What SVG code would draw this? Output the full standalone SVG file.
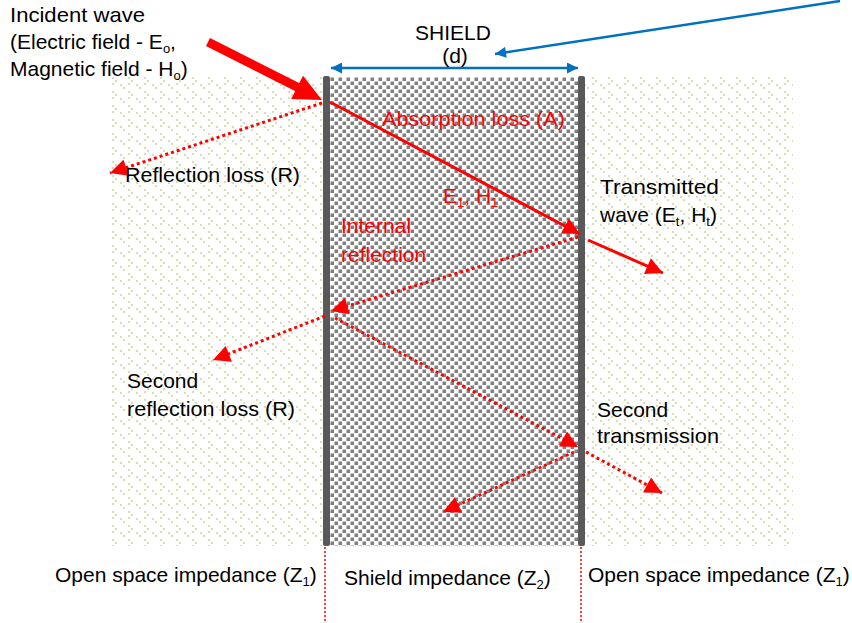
<svg xmlns="http://www.w3.org/2000/svg" width="852" height="623" viewBox="0 0 852 623">
<style>
.t{font-family:"Liberation Sans",Arial,sans-serif;font-size:21px;fill:#000}
.r{font-family:"Liberation Sans",Arial,sans-serif;font-size:21px;fill:#ff0000}
.s{font-size:13px}
.dot{stroke:#ff0000;stroke-width:3;stroke-dasharray:3 3;fill:none}
.sol{stroke:#ff0000;stroke-width:3;fill:none}
.blue{stroke:#0070c0;stroke-width:2.5;fill:none}
.wall{fill:#595959}
</style>
<defs>
<pattern id="open" x="110" y="76" width="16" height="14" patternUnits="userSpaceOnUse">
<rect x="2" y="1" width="2" height="2" fill="#d8ddb4"/>
<rect x="5" y="4" width="2" height="2" fill="#d8ddb4"/>
<rect x="2" y="7" width="2" height="2" fill="#d8ddb4"/>
<rect x="10" y="8" width="2" height="2" fill="#d8ddb4"/>
<rect x="13" y="11" width="2" height="2" fill="#d8ddb4"/>
</pattern>
<pattern id="chk" x="330" y="77" width="8" height="8" patternUnits="userSpaceOnUse">
<rect x="0.5" y="0.5" width="3.5" height="3.5" fill="#7f7f7f"/>
<rect x="4.5" y="4.5" width="3.5" height="3.5" fill="#7f7f7f"/>
</pattern>
<marker id="ah" viewBox="0 0 10 10" refX="10" refY="5" markerWidth="18" markerHeight="17" markerUnits="userSpaceOnUse" orient="auto">
<path d="M0,0 L10,5 L0,10 z" fill="#ff0000"/>
</marker>
<marker id="bh" viewBox="0 0 10 10" refX="10" refY="5" markerWidth="14" markerHeight="11" markerUnits="userSpaceOnUse" orient="auto-start-reverse">
<path d="M0,0 L10,5 L0,10 z" fill="#0070c0"/>
</marker>
</defs>

<g id="open-left"><rect x="110" y="76" width="213" height="470" fill="url(#open)"/></g>
<g id="open-right"><rect x="585" y="76" width="208" height="470" fill="url(#open)"/></g>
<g id="shield">
<rect x="330" y="77" width="248" height="469" fill="#fff"/>
<rect x="330" y="77" width="248" height="469" fill="url(#chk)"/>
<rect class="wall" x="323" y="76" width="7" height="470" rx="2"/>
<rect class="wall" x="578" y="76" width="7" height="470" rx="2"/>
</g>

<g id="connectors">
<line x1="325" y1="547" x2="325" y2="621" stroke="#ff0000" stroke-width="1.5" stroke-dasharray="2 2"/>
<line x1="581" y1="547" x2="581" y2="621" stroke="#ff0000" stroke-width="1.5" stroke-dasharray="2 2"/>
<line class="blue" x1="331" y1="68" x2="578" y2="68" marker-start="url(#bh)" marker-end="url(#bh)"/>
<line class="blue" x1="840" y1="1" x2="495" y2="54" marker-end="url(#bh)"/>
<line x1="208" y1="42" x2="299" y2="88" stroke="#ff0000" stroke-width="9"/>
<polygon points="322,100 291.2,98.9 303,75.7" fill="#ff0000"/>
<line class="dot" x1="322" y1="103" x2="110" y2="173" marker-end="url(#ah)"/>
<line class="sol" x1="330" y1="102" x2="580" y2="234" marker-end="url(#ah)"/>
<line class="sol" x1="588" y1="240" x2="663" y2="273" marker-end="url(#ah)"/>
<line class="dot" x1="578" y1="237" x2="331" y2="311" marker-end="url(#ah)"/>
<line class="dot" x1="325" y1="316" x2="213" y2="360" marker-end="url(#ah)"/>
<line class="dot" x1="335" y1="318" x2="578" y2="447" marker-end="url(#ah)"/>
<line class="dot" x1="586" y1="452" x2="662" y2="493" marker-end="url(#ah)"/>
<line class="dot" x1="574" y1="452" x2="443" y2="512" marker-end="url(#ah)"/>
</g>

<g id="labels">
<text class="t" x="10" y="22" textLength="135" lengthAdjust="spacingAndGlyphs">Incident wave</text>
<text class="t" x="10" y="49">(Electric field - E<tspan class="s" dy="4">o</tspan><tspan dy="-4">,</tspan></text>
<text class="t" x="10" y="76">Magnetic field - H<tspan class="s" dy="4">o</tspan><tspan dy="-4">)</tspan></text>
<text class="t" x="453" y="40" text-anchor="middle">SHIELD</text>
<text class="t" x="455" y="63" text-anchor="middle">(d)</text>
<text class="r" x="382" y="126" textLength="183" lengthAdjust="spacingAndGlyphs">Absorption loss (A)</text>
<text class="r" x="443" y="203">E<tspan class="s" dy="4">1</tspan><tspan dy="-4">, H</tspan><tspan class="s" dy="4">1</tspan></text>
<text class="r" x="341" y="233">Internal</text>
<text class="r" x="341" y="262">reflection</text>
<text class="t" x="125" y="182" textLength="175" lengthAdjust="spacingAndGlyphs">Reflection loss (R)</text>
<text class="t" x="600" y="194" textLength="119" lengthAdjust="spacingAndGlyphs">Transmitted</text>
<text class="t" x="600" y="222">wave (E<tspan class="s" dy="4">t</tspan><tspan dy="-4">, H</tspan><tspan class="s" dy="4">t</tspan><tspan dy="-4">)</tspan></text>
<text class="t" x="127" y="388">Second</text>
<text class="t" x="127" y="416" textLength="168" lengthAdjust="spacingAndGlyphs">reflection loss (R)</text>
<text class="t" x="597" y="417">Second</text>
<text class="t" x="597" y="443" textLength="122" lengthAdjust="spacingAndGlyphs">transmission</text>
<text class="t" x="55" y="582">Open space impedance (Z<tspan class="s" dy="4">1</tspan><tspan dy="-4">)</tspan></text>
<text class="t" x="344" y="585">Shield impedance (Z<tspan class="s" dy="4">2</tspan><tspan dy="-4">)</tspan></text>
<text class="t" x="588" y="582">Open space impedance (Z<tspan class="s" dy="4">1</tspan><tspan dy="-4">)</tspan></text>
</g>
</svg>
